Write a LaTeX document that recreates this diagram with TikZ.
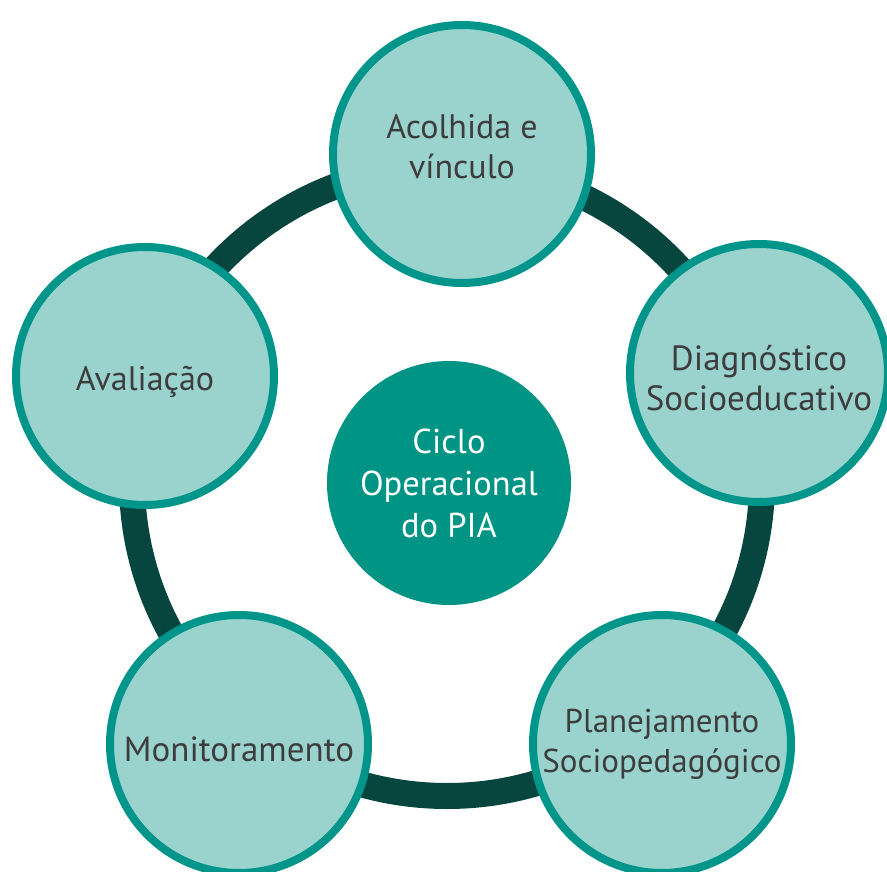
\documentclass[tikz,border=0pt]{standalone}
\usepackage{fontspec}
\setmainfont{PT Sans}
\definecolor{outerfill}{HTML}{9AD3CE}
\definecolor{outerline}{HTML}{00958A}
\definecolor{ringcol}{HTML}{07463F}
\definecolor{centerfill}{HTML}{009485}
\definecolor{txt}{HTML}{3D3D3D}
\tikzset{
  stage/.style={circle, draw=outerline, fill=outerfill, line width=8pt, minimum size=258pt, inner sep=0pt},
  stagetext/.style={text=txt, align=center, inner sep=0pt, font=\fontsize{34}{40}\selectfont},
  hub/.style={circle, fill=centerfill, minimum size=244pt, inner sep=0pt, text=white, align=center,
    font=\fontsize{34.5}{42}\selectfont},
  ring/.style={draw=ringcol, line width=26pt}
}
\begin{document}
\begin{tikzpicture}[x=1pt,y=-1pt]
\useasboundingbox (0,0) rectangle (887,872);
\coordinate (rc) at (447,481);
\draw[ring] (rc) circle[radius=315];
\node[hub] (hub) at (449,483) {Ciclo\\Operacional\\do PIA};
\node[stage] (acolhida) at (462,154) {};
\node[stage] (diag) at (759,373) {};
\node[stage] (plan) at (662,744) {};
\node[stage] (monit) at (239,744) {};
\node[stage] (aval) at (145,376) {};
\node[stagetext] (acolhida-t) at ([shift={(0,-7)}]acolhida.center) {Acolhida e\\vínculo};
\node[stagetext, font=\fontsize{35}{40}\selectfont] (diag-t) at ([shift={(0,5)}]diag.center) {Diagnóstico\\Socioeducativo};
\node[stagetext, font=\fontsize{33}{40}\selectfont] (plan-t) at ([shift={(0,0)}]plan.center) {Planejamento\\Sociopedagógico};
\node[stagetext, font=\fontsize{35}{40}\selectfont] (monit-t) at ([shift={(0,5)}]monit.center) {Monitoramento};
\node[stagetext] (aval-t) at ([shift={(0,6)}]aval.center) {Avaliação};
\end{tikzpicture}
\end{document}
